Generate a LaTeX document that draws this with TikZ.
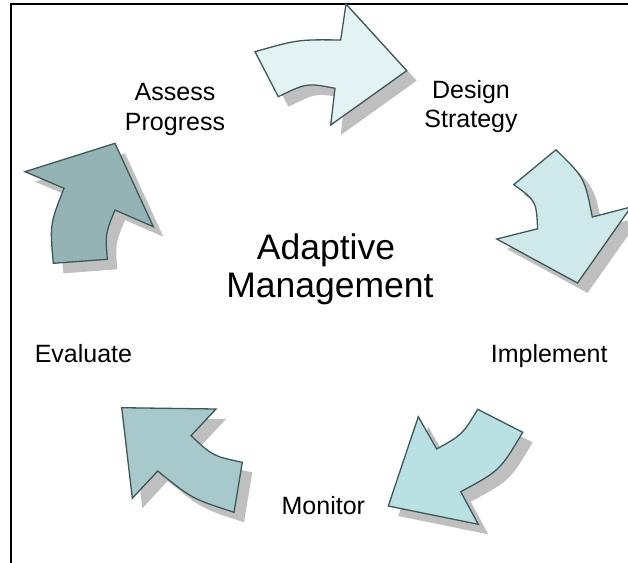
\documentclass[tikz,border=0pt]{standalone}
\usepackage{fontspec}
\setmainfont{Liberation Sans}
\definecolor{edgecol}{HTML}{3E5858}
\definecolor{shadecol}{HTML}{BFBFBF}
\definecolor{fillA}{HTML}{E3F3F3}
\definecolor{fillB}{HTML}{CFE8EA}
\definecolor{fillC}{HTML}{B9E0E3}
\definecolor{fillD}{HTML}{A8C9CB}
\definecolor{fillE}{HTML}{93B3B5}
\tikzset{
  arrowshape/.style={draw=edgecol, line width=1.3pt, line join=miter},
  shadowshape/.style={fill=shadecol, shift={(10,10)}},
  lbl/.style={font=\fontsize{25}{29.5}\selectfont, align=center, inner sep=0pt},
  biglbl/.style={font=\fontsize{35.5}{38}\selectfont, align=center, inner sep=0pt},
  framestyle/.style={draw=black, line width=2.2pt}
}
\newcommand{\shadedarrow}[2]{%
  \path[shadowshape] #2;
  \path[arrowshape, fill=#1] #2;
}
\begin{document}
\begin{tikzpicture}[x=1pt, y=-1pt]
\useasboundingbox (0,0) rectangle (628,562);
\clip (0,0) rectangle (628,562);
\fill[white] (0,0) rectangle (628,562);
% frame
\draw[framestyle] (11,570) -- (11,4) -- (640,4);
% arrows
\shadedarrow{fillA}{(255,51.7) .. controls (297.9,39.5) .. (340.7,40) -- (346,4) -- (406.7,70.7) -- (330.7,125) -- (335,88.3) .. controls (306.7,82.9) .. (278.3,96.7) -- cycle}
\shadedarrow{fillB}{(513.8,184.6) -- (555.9,149.8) .. controls (584.6,177.7) .. (592.3,217) -- (631,207) -- (577.5,283) -- (496.7,239) -- (537.6,228.8) .. controls (536.3,201) .. (513.8,184.6) -- cycle}
\shadedarrow{fillC}{(477.7,409.3) -- (522.7,432.3) .. controls (500,470.5) .. (460.7,491.7) -- (478.3,524.3) -- (388.3,506) -- (418.3,416.7) -- (436.7,449) .. controls (462.4,434.6) .. (477.7,409.3) -- cycle}
\shadedarrow{fillD}{(121.7,407.7) -- (216,409) -- (191,435.7) .. controls (213,456.1) .. (242.3,462.3) -- (234,512.3) .. controls (192,498.7) .. (157.7,471) -- (132.3,498.3) -- cycle}
\shadedarrow{fillE}{(115,143.3) -- (153.3,226.7) -- (115,210) .. controls (105.3,233.8) .. (107.3,259.3) -- (53.3,263.3) .. controls (49.8,224.5) .. (64,188.3) -- (25,171.7) -- cycle}
% labels
\node[lbl] (assess) at (175,109.4) {Assess\\Progress};
\node[lbl] (design) at (471,106.5) {Design\\Strategy};
\node[biglbl] (center) at (330,269.1) {Adaptive\hspace*{8pt}\\Management};
\node[lbl, anchor=base] (evaluate) at (83.4,362.3) {Evaluate};
\node[lbl, anchor=base] (implement) at (549.2,362.3) {Implement};
\node[lbl, anchor=base] (monitor) at (323.3,514) {Monitor};
\end{tikzpicture}
\end{document}
